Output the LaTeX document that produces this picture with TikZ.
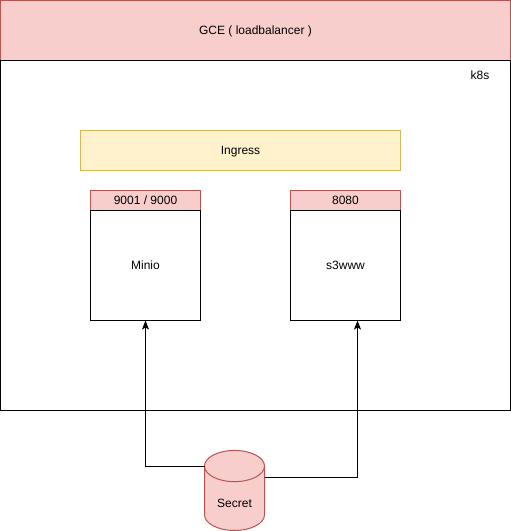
\documentclass[tikz,border=0pt]{standalone}
\usepackage{fontspec}
\setmainfont{Liberation Sans}
\usetikzlibrary{positioning,shapes.geometric,arrows.meta}
\definecolor{redfill}{HTML}{F8CECC}
\definecolor{redline}{HTML}{B85450}
\definecolor{yellowfill}{HTML}{FFF2CC}
\definecolor{yellowline}{HTML}{D6B656}
\begin{document}
\begin{tikzpicture}[x=1pt,y=1pt,node distance=0pt]
\tikzstyle{block} = [rectangle, draw=black, line width=1pt, outer sep=0pt, inner sep=0pt, text height=8pt, text depth=0pt, font=\fontsize{12}{14}\selectfont]
\tikzstyle{redblock} = [block, draw=redline, fill=redfill]
\tikzstyle{port} = [redblock, minimum width=110pt, minimum height=20pt]
\tikzstyle{service} = [block, minimum width=110pt, minimum height=110pt]
\tikzstyle{arrow} = [line width=1pt,-{Stealth[length=9pt,width=7pt,inset=2pt]}]

\useasboundingbox (0,0) rectangle (511,-531);

\node (gce) [redblock, minimum width=510pt, minimum height=60pt] at (255.5,-30.5) {GCE ( loadbalancer )};
\node (k8s) [block, minimum width=510pt, minimum height=350pt, below=of gce] {};
\node (k8slabel) [font=\fontsize{12}{14}\selectfont, inner sep=0pt, text height=8pt, text depth=0pt] at (480,-75) {k8s};
\node (ingress) [block, draw=yellowline, fill=yellowfill, minimum width=320pt, minimum height=40pt] at (240.5,-150.5) {Ingress};
\node (minioport) [port] at (145.5,-200.5) {9001 / 9000};
\node (minio) [service, below=of minioport] {Minio};
\node (s3wwwport) [port] at (345.5,-200.5) {8080};
\node (s3www) [service, below=of s3wwwport] {s3www};
\node (secret) [cylinder, shape border rotate=90, shape aspect=0.9, draw=redline, fill=redfill, line width=1pt, outer sep=0pt, inner sep=0pt, minimum width=60pt, minimum height=80pt, text height=17pt, text depth=0pt, font=\fontsize{12}{14}\selectfont] at (234.5,-498.5) {Secret};

\draw [arrow] (secret.before top) -| (minio.south);
\draw [arrow] (secret.35) -| ([xshift=12pt]s3www.south);
\end{tikzpicture}
\end{document}
